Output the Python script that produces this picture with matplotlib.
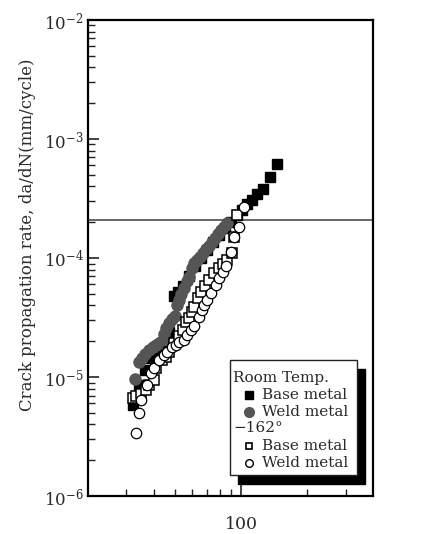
import numpy as np
import matplotlib
matplotlib.use("Agg")
import matplotlib.pyplot as plt
from matplotlib.patches import Rectangle

plt.rcParams['font.family'] = ['DejaVu Serif']
plt.rcParams['mathtext.fontset'] = 'dejavuserif'

# Room temperature, base metal (filled squares)
rt_base_dk = [32.3, 34.4, 36.6, 39.0, 41.5, 44.2, 47.1, 49.6, 51.7, 54.5, 58.1, 61.8, 65.8,
              70.0, 74.6, 79.4, 84.6, 90.1, 95.9, 101.0, 106.5, 112.2, 118.2, 125.9, 135.5, 145.8]
rt_base_da = [5.82e-6, 8.57e-6, 1.15e-5, 1.45e-5, 1.69e-5, 1.93e-5, 2.39e-5, 4.80e-5, 5.18e-5,
              5.82e-5, 7.06e-5, 8.57e-5, 1.0e-4, 1.17e-4, 1.36e-4, 1.56e-4, 1.79e-4, 2.01e-4,
              2.30e-4, 2.53e-4, 2.84e-4, 3.07e-4, 3.45e-4, 3.80e-4, 4.80e-4, 6.17e-4]

# Room temperature, weld metal (gray circles)
rt_weld_dk = [32.7, 34.4, 35.5, 36.6, 38.2, 39.8, 41.1, 42.4, 43.8, 44.7, 45.6, 47.1, 48.6,
              50.1, 51.2, 52.3, 53.4, 55.1, 56.9, 58.1, 59.9, 61.1, 63.1, 65.2, 67.2, 69.3,
              71.6, 73.8, 76.2, 78.6, 81.1, 83.7, 86.4]
rt_weld_da = [9.6e-6, 1.34e-5, 1.45e-5, 1.56e-5, 1.69e-5, 1.79e-5, 1.86e-5, 1.93e-5, 2.01e-5,
              2.30e-5, 2.58e-5, 2.85e-5, 3.07e-5, 3.26e-5, 4.03e-5, 4.44e-5, 4.98e-5, 5.60e-5,
              6.41e-5, 6.92e-5, 8.24e-5, 9.08e-5, 9.62e-5, 1.02e-4, 1.10e-4, 1.19e-4, 1.26e-4,
              1.36e-4, 1.47e-4, 1.59e-4, 1.72e-4, 1.82e-4, 1.97e-4]

# -162 deg, base metal (open squares)
lt_base_dk = [32.0, 33.3, 35.1, 37.0, 38.2, 40.2, 41.1, 43.8, 45.6, 47.1, 49.6, 52.3, 54.5,
              56.2, 58.1, 59.9, 61.1, 63.8, 65.8, 68.6, 71.6, 75.4, 79.4, 82.8, 86.4, 91.0,
              92.9, 95.9]
lt_base_da = [6.67e-6, 6.92e-6, 7.19e-6, 7.78e-6, 8.57e-6, 9.44e-6, 1.19e-5, 1.39e-5, 1.47e-5,
              1.62e-5, 1.93e-5, 2.21e-5, 2.48e-5, 2.90e-5, 3.13e-5, 3.52e-5, 3.87e-5, 4.61e-5,
              5.18e-5, 5.82e-5, 6.53e-5, 7.48e-5, 8.24e-5, 8.91e-5, 9.62e-5, 1.10e-4, 1.50e-4,
              2.30e-4]

# -162 deg, weld metal (open circles)
lt_weld_dk = [33.3, 34.4, 35.1, 37.4, 39.0, 40.2, 42.4, 44.7, 46.1, 48.6, 50.6, 52.3, 55.1,
              56.9, 59.3, 61.1, 64.4, 66.5, 67.9, 70.0, 73.1, 76.9, 79.4, 82.8, 85.5, 90.1,
              92.9, 97.9, 103.2]
lt_weld_da = [3.38e-6, 4.98e-6, 6.41e-6, 8.57e-6, 1.08e-5, 1.19e-5, 1.39e-5, 1.53e-5, 1.62e-5,
              1.79e-5, 1.86e-5, 1.97e-5, 2.05e-5, 2.25e-5, 2.48e-5, 2.69e-5, 3.19e-5, 3.66e-5,
              4.03e-5, 4.44e-5, 5.08e-5, 5.93e-5, 6.79e-5, 7.62e-5, 8.57e-5, 1.12e-4, 1.50e-4,
              1.82e-4, 2.68e-4]

ref_rate = 2.1e-4
x_major = [100]
x_minor = [30, 40, 50, 60, 70, 80, 90, 200, 300]
y_major = [1e-6, 1e-5, 1e-4, 1e-3, 1e-2]
y_labels = ['$10^{-6}$', '$10^{-5}$', '$10^{-4}$', '$10^{-3}$', '$10^{-2}$']

gray = '#555555'
txt = '#2a2a2a'

fig = plt.figure(figsize=(4.48, 5.34), dpi=100)
ax = fig.add_axes([0.196, 0.071, 0.637, 0.8915])
ax.set_xscale('log')
ax.set_yscale('log')
ax.set_xlim(20, 400)
ax.set_ylim(1e-6, 1e-2)

ax.axhline(ref_rate, color='#666666', lw=1.4, zorder=1)

ax.plot(rt_base_dk, rt_base_da, 's', ms=7, mfc='black', mec='black', zorder=2)
ax.plot(rt_weld_dk, rt_weld_da, 'o', ms=8, mfc=gray, mec=gray, zorder=3)
ax.plot(lt_base_dk, lt_base_da, 's', ms=6.5, mfc='white', mec='black', mew=1.1, zorder=4)
ax.plot(lt_weld_dk, lt_weld_da, 'o', ms=7.5, mfc='white', mec='black', mew=0.9, zorder=5)

ax.set_xticks(x_major)
ax.set_xticklabels(['100'])
ax.set_xticks(x_minor, minor=True)
ax.set_xticklabels([], minor=True)
ax.set_yticks(y_major)
ax.set_yticklabels(y_labels)
ax.tick_params(which='both', direction='in', top=False, right=False, color='#222222')
ax.tick_params(which='major', length=8, width=1.2)
ax.tick_params(which='minor', length=5, width=1.0)
ax.tick_params(axis='x', labelsize=12.5, pad=14, labelcolor=txt)
ax.tick_params(axis='y', labelsize=12, pad=3, labelcolor=txt)
for s in ax.spines.values():
    s.set_linewidth(1.6)
    s.set_color('black')

ax.set_ylabel('Crack propagation rate, da/dN(mm/cycle)', fontsize=12, color=txt)
ax.yaxis.set_label_coords(-0.18, 0.548)

# legend box with solid black shadow
lx0, ly0, lw_, lh_ = 0.498, 0.044, 0.446, 0.242
ax.add_patch(Rectangle((lx0 + 0.028, ly0 - 0.019), lw_, lh_, transform=ax.transAxes,
                       facecolor='black', edgecolor='black', zorder=6, clip_on=False))
ax.add_patch(Rectangle((lx0, ly0), lw_, lh_, transform=ax.transAxes,
                       facecolor='white', edgecolor='#222222', lw=1.0, zorder=7, clip_on=False))

rows = [('Room Temp.', None), ('Base metal', 'rt_base'), ('Weld metal', 'rt_weld'),
        ('\u2212162\u00b0', None), ('Base metal', 'lt_base'), ('Weld metal', 'lt_weld')]
styles = {
    'rt_base': dict(marker='s', ms=5.5, mfc='black', mec='black'),
    'rt_weld': dict(marker='o', ms=7, mfc=gray, mec=gray),
    'lt_base': dict(marker='s', ms=5, mfc='white', mec='black', mew=1.2),
    'lt_weld': dict(marker='o', ms=5.5, mfc='white', mec='black', mew=1.0),
}
row_y = [0.248, 0.212, 0.176, 0.142, 0.105, 0.069]
for (label, key), yy in zip(rows, row_y):
    if key is None:
        ax.text(0.510, yy, label, transform=ax.transAxes, fontsize=11, va='center',
                ha='left', color=txt, zorder=8)
    else:
        ax.plot([0.565], [yy], transform=ax.transAxes, ls='none', zorder=8,
                clip_on=False, **styles[key])
        ax.text(0.612, yy, label, transform=ax.transAxes, fontsize=11, va='center',
                ha='left', color=txt, zorder=8)

fig.savefig('out.png', dpi=100)
